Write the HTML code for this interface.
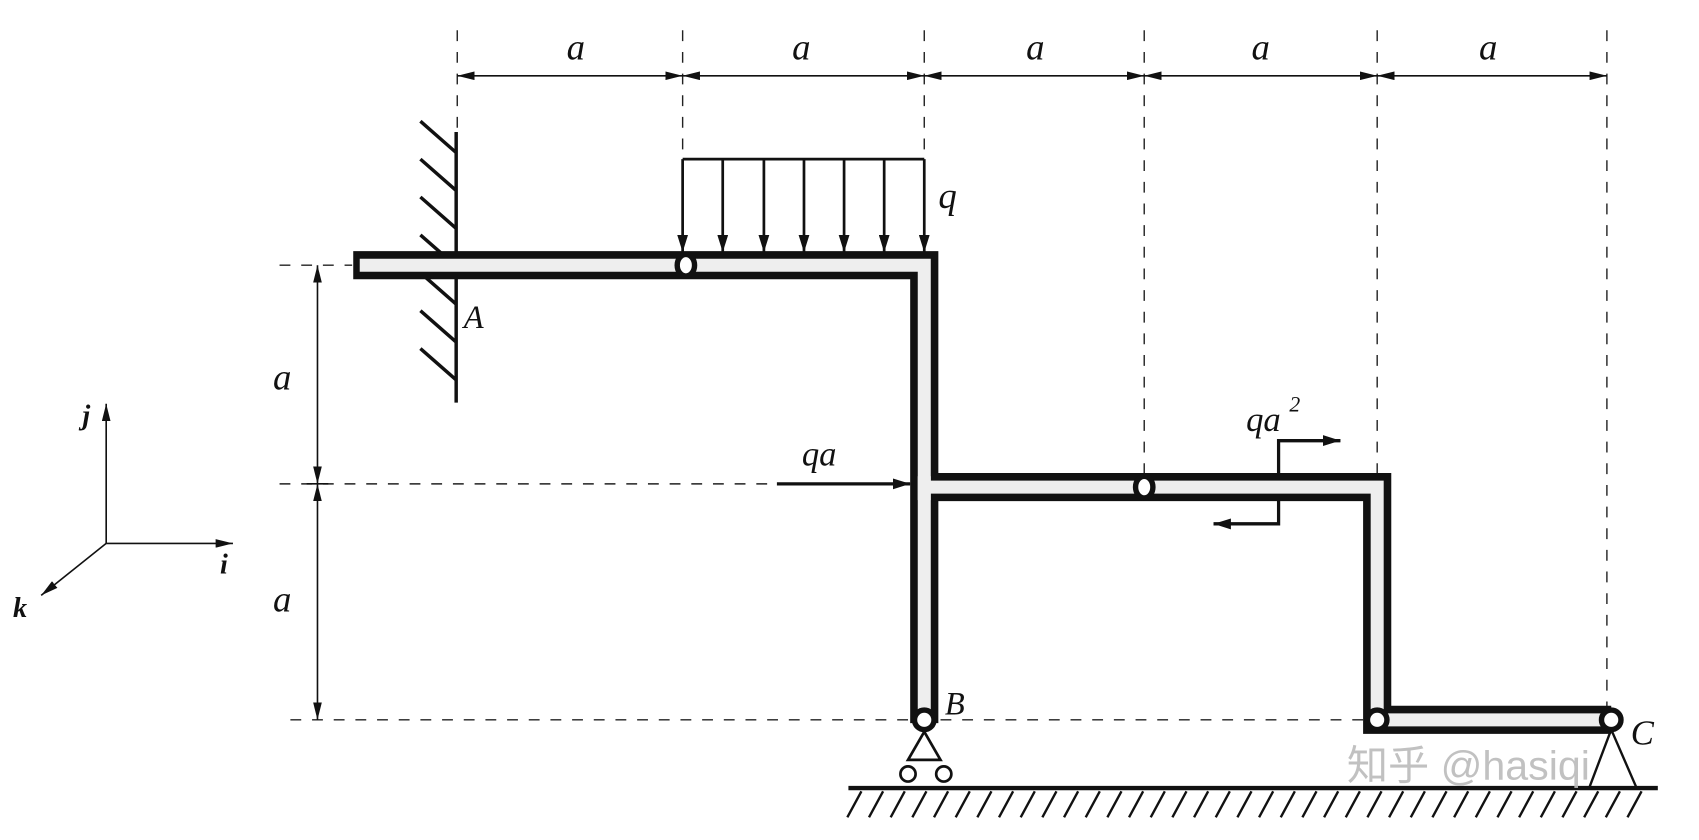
<!DOCTYPE html>
<html><head><meta charset="utf-8"><style>
html,body{margin:0;padding:0;background:#fff;}
svg{display:block}
text{font-family:"Liberation Serif","Noto Serif CJK SC",serif;font-style:italic;fill:#111}
</style></head><body>
<svg width="1699" height="840" viewBox="0 0 1568 776" preserveAspectRatio="none" xmlns="http://www.w3.org/2000/svg">
<defs>
<marker id="ah" viewBox="0 0 16 8" refX="16" refY="4" markerWidth="16" markerHeight="8" markerUnits="userSpaceOnUse" orient="auto-start-reverse"><path d="M0,0 L16,4 L0,8 z" fill="#111"/></marker>
<marker id="ab" viewBox="0 0 16 10" refX="16" refY="5" markerWidth="16" markerHeight="10" markerUnits="userSpaceOnUse" orient="auto-start-reverse"><path d="M0,0 L16,5 L0,10 z" fill="#111"/></marker>
</defs>
<g stroke="#222" stroke-width="1.3" stroke-dasharray="10,10" fill="none">
<line x1="422" y1="28" x2="422" y2="125"/>
<line x1="630" y1="28" x2="630" y2="145"/>
<line x1="853" y1="28" x2="853" y2="145"/>
<line x1="1056" y1="28" x2="1056" y2="440"/>
<line x1="1271" y1="28" x2="1271" y2="437"/>
<line x1="1483" y1="28" x2="1483" y2="655"/>
<line x1="258" y1="245" x2="325" y2="245"/>
<line x1="258" y1="447" x2="840" y2="447"/>
<line x1="268" y1="665" x2="1262" y2="665"/>
</g>
<g stroke="#111" stroke-width="1.5">
<line x1="422" y1="70" x2="630" y2="70" marker-start="url(#ah)" marker-end="url(#ah)"/>
<line x1="630" y1="70" x2="853" y2="70" marker-start="url(#ah)" marker-end="url(#ah)"/>
<line x1="853" y1="70" x2="1056" y2="70" marker-start="url(#ah)" marker-end="url(#ah)"/>
<line x1="1056" y1="70" x2="1271" y2="70" marker-start="url(#ah)" marker-end="url(#ah)"/>
<line x1="1271" y1="70" x2="1483" y2="70" marker-start="url(#ah)" marker-end="url(#ah)"/>
<line x1="293" y1="245" x2="293" y2="447" marker-start="url(#ah)" marker-end="url(#ah)"/>
<line x1="293" y1="447" x2="293" y2="665" marker-start="url(#ah)" marker-end="url(#ah)"/>
<line x1="283" y1="447" x2="303" y2="447"/>
<line x1="98" y1="502" x2="98" y2="373" marker-end="url(#ah)"/>
<line x1="98" y1="502" x2="215" y2="502" marker-end="url(#ah)"/>
<line x1="98" y1="502" x2="38" y2="550" marker-end="url(#ah)"/>
</g>
<g font-size="34">
<text x="523" y="55">a</text><text x="731" y="55">a</text><text x="947" y="55">a</text><text x="1155" y="55">a</text><text x="1365" y="55">a</text>
<text x="252" y="360">a</text><text x="252" y="565">a</text>
<text x="866" y="192">q</text>
<text x="428" y="303" font-size="30">A</text>
<text x="872" y="660" font-size="30">B</text>
<text x="1505" y="688" font-size="32">C</text>
<text x="740" y="430" font-size="32">qa</text>
<text x="1150" y="398" font-size="32">qa</text><text x="1190" y="380" font-size="20">2</text>
</g>
<g font-size="26" font-weight="bold">
<text x="76" y="392">j</text><text x="203" y="530">i</text><text x="12" y="570">k</text>
</g>
<g stroke="#111" stroke-width="3.2">
<line x1="421" y1="122" x2="421" y2="372"/>
<path d="M421,141 l-33,-29 M421,176 l-33,-29 M421,211 l-33,-29 M421,246 l-33,-29 M421,281 l-33,-29 M421,316 l-33,-29 M421,351 l-33,-29"/>
</g>
<g stroke="#111" stroke-width="2.5">
<line x1="630" y1="147" x2="853" y2="147"/>
<line x1="630" y1="147" x2="630" y2="233" marker-end="url(#ab)"/>
<line x1="667" y1="147" x2="667" y2="233" marker-end="url(#ab)"/>
<line x1="705" y1="147" x2="705" y2="233" marker-end="url(#ab)"/>
<line x1="742" y1="147" x2="742" y2="233" marker-end="url(#ab)"/>
<line x1="779" y1="147" x2="779" y2="233" marker-end="url(#ab)"/>
<line x1="816" y1="147" x2="816" y2="233" marker-end="url(#ab)"/>
<line x1="853" y1="147" x2="853" y2="233" marker-end="url(#ab)"/>
<line x1="717" y1="447" x2="840" y2="447" stroke-width="3" marker-end="url(#ab)"/>
<path d="M1120,484 H1180 V407 H1237" fill="none" stroke-width="3"/>
<line x1="1180" y1="407" x2="1237" y2="407" stroke-width="3" marker-end="url(#ab)"/>
<line x1="1180" y1="484" x2="1120" y2="484" stroke-width="3" marker-end="url(#ab)"/>
</g>
<g fill="none" stroke-linejoin="miter" stroke-linecap="butt">
<path d="M326,245 H853 V668" stroke="#111" stroke-width="26"/>
<path d="M853,450 H1271 V665 H1487" stroke="#111" stroke-width="26"/>
<path d="M332,245 H853 V668" stroke="#eee" stroke-width="12"/>
<path d="M853,450 H1271 V665 H1487" stroke="#eee" stroke-width="12"/>
<line x1="853" y1="440" x2="853" y2="462" stroke="#eee" stroke-width="12"/>
</g>
<g fill="#fff" stroke="#111" stroke-width="5">
<ellipse cx="633" cy="245" rx="8" ry="10"/>
<ellipse cx="1056" cy="450" rx="8" ry="10"/>
<circle cx="853" cy="665" r="9"/>
<circle cx="1271" cy="665" r="9"/>
<circle cx="1487" cy="665" r="9"/>
</g>
<g stroke="#111" stroke-width="2.5" fill="#fff">
<path d="M853,676 L838,702 H868 Z"/>
<circle cx="838" cy="715" r="7"/><circle cx="871" cy="715" r="7"/>
</g>
<g stroke="#111" stroke-width="2.2"><path d="M1487,674 L1467,727 M1487,674 L1510,727"/></g>
<line x1="783" y1="728" x2="1530" y2="728" stroke="#111" stroke-width="4"/>
<path stroke="#111" stroke-width="2.2" d="M795,731 l-13,24 M815,731 l-13,24 M835,731 l-13,24 M855,731 l-13,24 M875,731 l-13,24 M895,731 l-13,24 M915,731 l-13,24 M935,731 l-13,24 M955,731 l-13,24 M975,731 l-13,24 M995,731 l-13,24 M1015,731 l-13,24 M1035,731 l-13,24 M1055,731 l-13,24 M1075,731 l-13,24 M1095,731 l-13,24 M1115,731 l-13,24 M1135,731 l-13,24 M1155,731 l-13,24 M1175,731 l-13,24 M1195,731 l-13,24 M1215,731 l-13,24 M1235,731 l-13,24 M1255,731 l-13,24 M1275,731 l-13,24 M1295,731 l-13,24 M1315,731 l-13,24 M1335,731 l-13,24 M1355,731 l-13,24 M1375,731 l-13,24 M1395,731 l-13,24 M1415,731 l-13,24 M1435,731 l-13,24 M1455,731 l-13,24 M1475,731 l-13,24 M1495,731 l-13,24 M1515,731 l-13,24"/>
<text x="1243" y="720" font-size="38" style="font-style:normal;font-family:'Liberation Sans','Noto Sans CJK SC',sans-serif;fill:#bbb;opacity:0.9">知乎 @hasiqi</text>
</svg>
</body></html>
